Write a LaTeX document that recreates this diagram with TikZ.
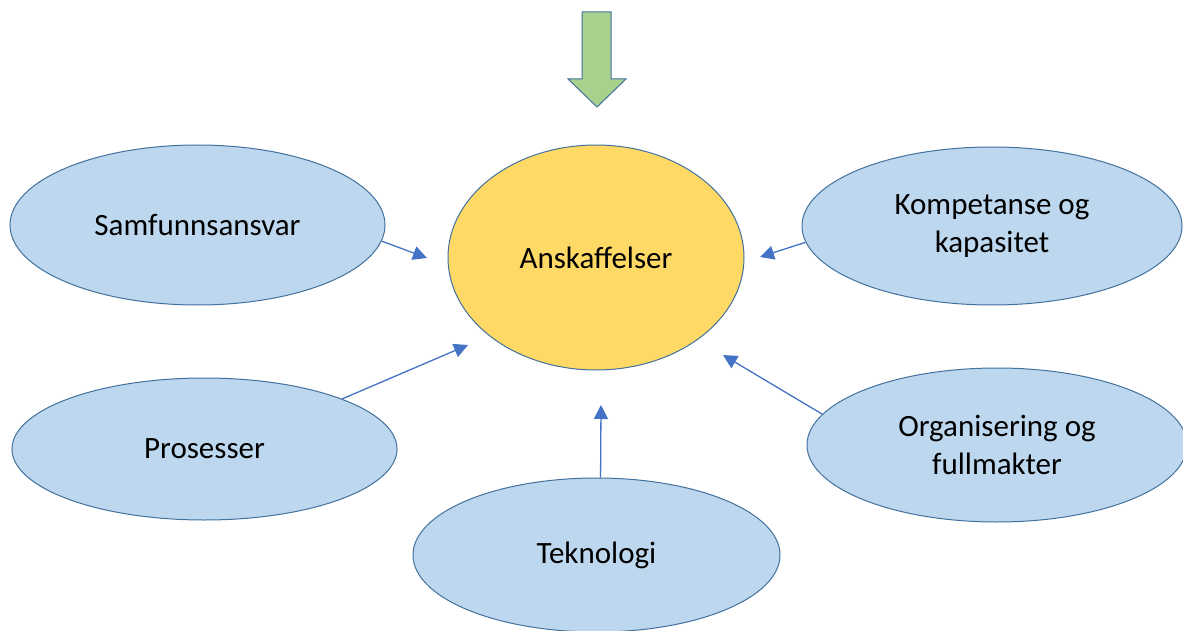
\documentclass[tikz,border=0pt]{standalone}
\usepackage{fontspec}
\setmainfont{Carlito}
\usetikzlibrary{shapes.geometric,arrows.meta}
\definecolor{ellipseFill}{HTML}{BDD7EE}
\definecolor{ellipseLine}{HTML}{41719C}
\definecolor{centreFill}{HTML}{FFD966}
\definecolor{arrowBlue}{HTML}{4472C4}
\definecolor{greenFill}{HTML}{A9D18E}
\newcommand{\myDownArrow}{%%
  %% Draw the green arrow above the centre.
  \draw[downArrowStyle] (582,12) -- (611,12) -- (611,79) -- (626,79)
  -- (597,107) -- (568,79) -- (582,79) -- cycle;
}
\newcommand{\myEllipses}{%%
  %% The centre.
  \node[centreStyle] (ansk) at (centre) {Anskaffelser};
  %% The five around it.
  \node[ellipseStyle,minimum width=375,minimum height=160] (samf) at (197.5,225) {Samfunnsansvar};
  \node[ellipseStyle,minimum width=380,minimum height=158] (komp) at (992,226) {Kompetanse og\\kapasitet};
  \node[ellipseStyle,minimum width=385,minimum height=142] (pros) at (204.5,449) {Prosesser};
  \node[ellipseStyle,minimum width=380,minimum height=154] (org) at (997,445) {Organisering og\\fullmakter};
  \node[ellipseStyle,minimum width=367,minimum height=154] (tekn) at (596.5,555) {Teknologi};
}
\newcommand{\myConnectors}{%%
  %% Arrows pointing in towards the centre.
  \draw[lineStyle] (samf.-5) -- (samfTip);
  \draw[lineStyle] (komp.185) -- (kompTip);
  \draw[lineStyle] (pros.20) -- (prosTip);
  \draw[lineStyle] (org.170) -- (orgTip);
  \draw[lineStyle] (tekn.87) -- (teknTip);
}

\begin{document}
\begin{tikzpicture}[%%
  x=1pt,y=-1pt,%%
  lineStyle/.style={-{Triangle[length=14pt,width=14pt]},line width=1.3pt,arrowBlue},%%
  ellipseStyle/.style={draw=ellipseLine,line width=1pt,fill=ellipseFill,ellipse,inner sep=0pt,align=center,font=\fontsize{31}{38}\selectfont},%%
  centreStyle/.style={ellipseStyle,fill=centreFill,minimum width=296,minimum height=225},%%
  downArrowStyle/.style={draw=ellipseLine,line width=1pt,fill=greenFill}
]
%%
%%
\useasboundingbox (0,0) rectangle (1183,631);
\coordinate (centre) at (596,257.5);
%% Tips of the connectors.
\coordinate (samfTip) at (427,258);
\coordinate (kompTip) at (760,257);
\coordinate (prosTip) at (468,345);
\coordinate (orgTip) at (723,355);
\coordinate (teknTip) at (601,405);
%%
\myDownArrow
\myEllipses
\myConnectors
\end{tikzpicture}
\end{document}
